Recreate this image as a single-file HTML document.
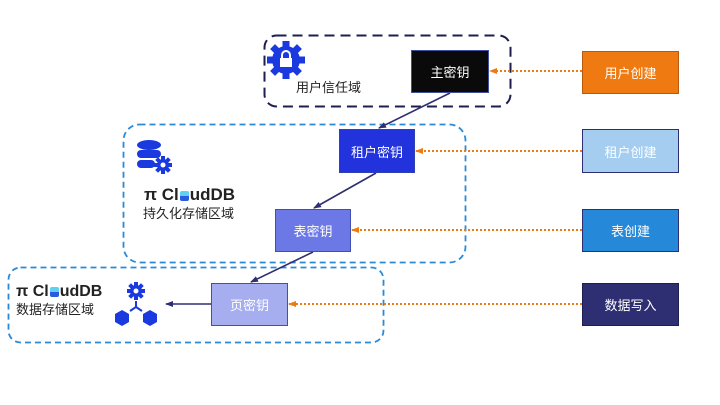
<!DOCTYPE html>
<html><head><meta charset="utf-8"><style>
body{margin:0;width:720px;height:405px;background:#fff;overflow:hidden;font-family:"Liberation Sans","Noto Sans CJK SC",sans-serif}
.b{position:absolute;color:#fff;font-size:13px;display:flex;align-items:center;justify-content:center;box-sizing:border-box}
.t{position:absolute;font-size:12px;color:#222;white-space:nowrap}
.logo{position:absolute;font-weight:bold;font-size:17px;color:#222;letter-spacing:0;white-space:nowrap;line-height:18px}
.cube{display:inline-block;width:9px;height:10px;background:linear-gradient(#5fd0f0 50%,#2a5ae0 50%);border-radius:2px;margin:0 1px;vertical-align:-1px}
</style></head><body>
<svg width="720" height="405" style="position:absolute;left:0;top:0">
<defs>
<marker id="a" markerWidth="8" markerHeight="8" refX="7" refY="4" orient="auto" markerUnits="userSpaceOnUse"><path d="M0,1 L8,4 L0,7z" fill="#2e2e72"/></marker>
<marker id="o" markerWidth="8" markerHeight="8" refX="7" refY="4" orient="auto" markerUnits="userSpaceOnUse"><path d="M0,1 L8,4 L0,7z" fill="#f07a12"/></marker>
</defs>
<rect x="264.5" y="35.5" width="246" height="71" rx="12" fill="none" stroke="#1e1e50" stroke-width="2" stroke-dasharray="10,6"/>
<rect x="123.5" y="124.5" width="342" height="138" rx="16" fill="none" stroke="#2a8ad8" stroke-width="1.8" stroke-dasharray="6,4"/>
<rect x="8.5" y="267.5" width="375" height="75" rx="12" fill="none" stroke="#2a8ad8" stroke-width="1.8" stroke-dasharray="6,4"/>
<g stroke="#2e2e72" stroke-width="1.6" fill="none">
<line x1="450" y1="93" x2="379" y2="128" marker-end="url(#a)"/>
<line x1="376" y1="173" x2="314" y2="208" marker-end="url(#a)"/>
<line x1="313" y1="252" x2="251" y2="282" marker-end="url(#a)"/>
<line x1="211" y1="304" x2="166" y2="304" marker-end="url(#a)"/>
</g>
<g stroke="#f07a12" stroke-width="2" stroke-dasharray="2,2" fill="none">
<line x1="582" y1="71" x2="490" y2="71" marker-end="url(#o)"/>
<line x1="582" y1="151" x2="416" y2="151" marker-end="url(#o)"/>
<line x1="582" y1="230" x2="352" y2="230" marker-end="url(#o)"/>
<line x1="582" y1="304" x2="289" y2="304" marker-end="url(#o)"/>
</g>
<g fill="#1a3adf">
<circle cx="286" cy="60" r="14"/>
<g transform="translate(286,60)">
<rect x="-3.5" y="-19" width="7" height="38"/><rect x="-19" y="-3.5" width="38" height="7"/>
<rect x="-3.5" y="-19" width="7" height="38" transform="rotate(45)"/><rect x="-3.5" y="-19" width="7" height="38" transform="rotate(-45)"/>
</g>
</g>
<rect x="280" y="58" width="12" height="9" fill="#fff"/>
<path d="M282,58 v-3 a4,4 0 0 1 8,0 v3" stroke="#fff" stroke-width="2" fill="none"/>
<g fill="#1a3adf">
<ellipse cx="149" cy="145" rx="12" ry="5"/>
<rect x="137" y="150" width="24" height="8" rx="4"/>
<rect x="137" y="160" width="18" height="8" rx="4"/>
<circle cx="163" cy="165" r="6"/>
<g transform="translate(163,165)"><rect x="-2" y="-9" width="4" height="18"/><rect x="-9" y="-2" width="18" height="4"/><rect x="-2" y="-9" width="4" height="18" transform="rotate(45)"/><rect x="-2" y="-9" width="4" height="18" transform="rotate(-45)"/></g>
</g>
<circle cx="163" cy="165" r="2.5" fill="#fff"/>
<g fill="#1a3adf">
<circle cx="136" cy="291" r="6"/>
<g transform="translate(136,291)"><rect x="-2" y="-9" width="4" height="18"/><rect x="-9" y="-2" width="18" height="4"/><rect x="-2" y="-9" width="4" height="18" transform="rotate(45)"/><rect x="-2" y="-9" width="4" height="18" transform="rotate(-45)"/></g>
<path d="M115,314 l7,-4 l7,4 v8 l-7,4 l-7,-4z"/>
<path d="M143,314 l7,-4 l7,4 v8 l-7,4 l-7,-4z"/>
<path d="M136,301 v6 l-6,4 M136,307 l6,4" stroke="#1a3adf" stroke-width="2" fill="none"/>
</g>
<circle cx="136" cy="291" r="2.5" fill="#fff"/>
</svg>
<div class="b" style="left:411px;top:50px;width:78px;height:43px;background:#0a0a0a;border:1px solid #4050a0">主密钥</div>
<div class="b" style="left:582px;top:51px;width:97px;height:43px;background:#f07a12;border:1px solid #b85a10">用户创建</div>
<div class="b" style="left:339px;top:129px;width:76px;height:44px;background:#2233dd;border:1px solid #3040b0">租户密钥</div>
<div class="b" style="left:582px;top:129px;width:97px;height:44px;background:#a4cdf0;border:1px solid #2e2e72">租户创建</div>
<div class="b" style="left:275px;top:209px;width:76px;height:43px;background:#6b78e6;border:1px solid #4050b0">表密钥</div>
<div class="b" style="left:582px;top:209px;width:97px;height:43px;background:#2588d8;border:1px solid #2e2e72">表创建</div>
<div class="b" style="left:211px;top:283px;width:77px;height:43px;background:#a6aef0;border:1px solid #4050b0">页密钥</div>
<div class="b" style="left:582px;top:283px;width:97px;height:43px;background:#2e2e72;border:1px solid #1e1e50">数据写入</div>
<div class="t" style="left:296px;top:77px;font-size:13px">用户信任域</div>
<div class="logo" style="left:144px;top:186px">π Cl<span class="cube"></span>udDB</div>
<div class="t" style="left:143px;top:203px;font-size:13px">持久化存储区域</div>
<div class="logo" style="left:16px;top:283px;font-size:16px">π Cl<span class="cube"></span>udDB</div>
<div class="t" style="left:16px;top:299px;font-size:13px">数据存储区域</div>
</body></html>
